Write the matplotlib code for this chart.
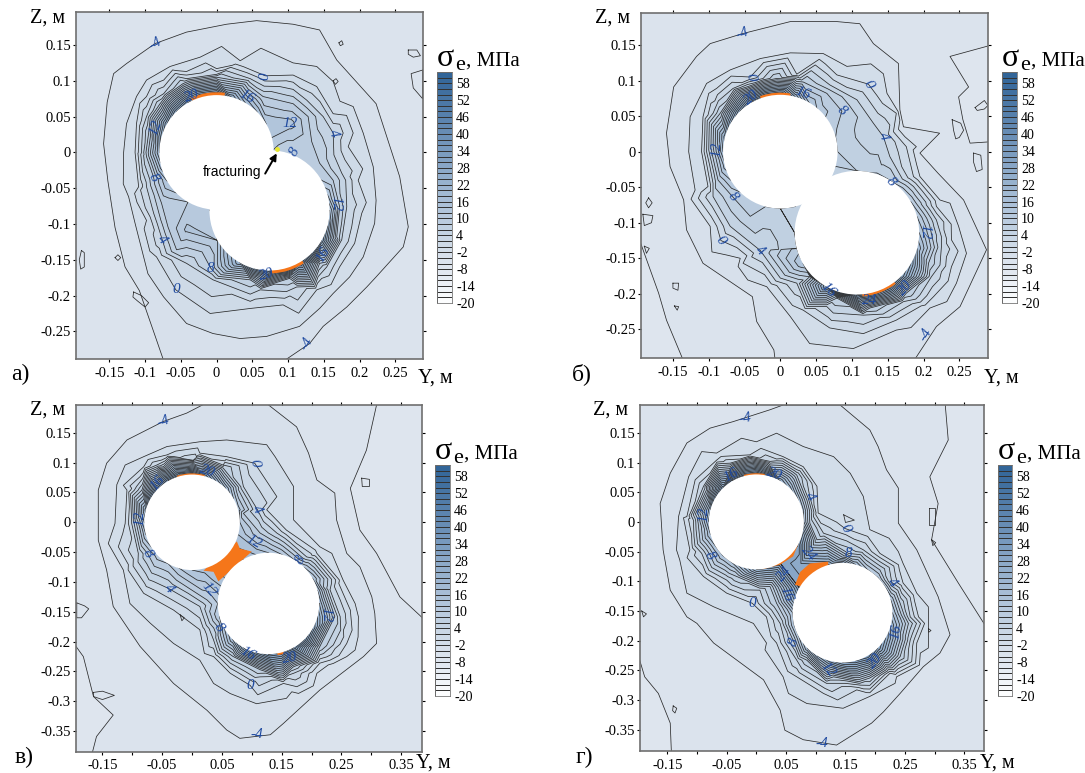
import numpy as np
import matplotlib
matplotlib.use("Agg")
import matplotlib.pyplot as plt
import matplotlib.tri as mtri
from matplotlib.colors import LinearSegmentedColormap, Normalize
from matplotlib.patches import Circle, Wedge, Polygon

plt.rcParams['font.family'] = ['Liberation Serif', 'DejaVu Serif']

W, H = 1085, 773

# =========================
# Data: contour samples (Y, Z)
# =========================
A_M4 = [(-0.074,-0.291),(-0.084,-0.262),(-0.093,-0.22),(-0.108,-0.193),(-0.128,-0.16),(-0.142,-0.105),(-0.152,-0.04),(-0.158,0.012),(-0.153,0.07),(-0.144,0.11),(-0.126,0.124),(-0.098,0.14),(-0.086,0.152),(-0.042,0.168),(0.014,0.179),(0.056,0.184),(0.107,0.179),(0.144,0.171),(0.151,0.152),(0.168,0.129),(0.182,0.089),(0.223,0.068),(0.228,0.031),(0.247,-0.006),(0.256,-0.034),(0.254,-0.085),(0.268,-0.104),(0.261,-0.132),(0.223,-0.174),(0.21,-0.188),(0.182,-0.216),(0.149,-0.243),(0.13,-0.267),(0.102,-0.274),(0.093,-0.292)]
A_M2 = [(-0.023,0.133),(0.033,0.128),(0.107,0.125),(0.14,0.12),(0.163,0.099),(0.191,0.064),(0.205,0.027),(0.219,-0.02),(0.223,-0.067),(0.221,-0.099),(0.205,-0.146),(0.186,-0.174),(0.163,-0.197),(0.116,-0.243),(0.07,-0.257),(0.033,-0.26),(-0.005,-0.253),(-0.042,-0.239),(-0.074,-0.202),(-0.102,-0.146),(-0.114,-0.099),(-0.123,-0.062),(-0.13,0.0),(-0.126,0.04),(-0.112,0.078),(-0.098,0.101),(-0.065,0.12)]
A_0 = [(0.068,0.107),(0.0,0.117),(-0.042,0.113),(-0.074,0.101),(-0.098,0.078),(-0.112,0.04),(-0.114,0.0),(-0.109,-0.048),(-0.098,-0.095),(-0.084,-0.146),(-0.057,-0.192),(-0.009,-0.225),(0.047,-0.218),(0.093,-0.213),(0.14,-0.192),(0.172,-0.16),(0.193,-0.127),(0.203,-0.085),(0.198,-0.039),(0.184,0.008),(0.163,0.054),(0.14,0.092),(0.107,0.108)]
A_4 = [(0.163,0.027),(0.175,-0.029),(0.182,-0.076),(0.175,-0.122),(0.154,-0.16),(0.112,-0.188),(0.061,-0.192),(-0.005,-0.178),(-0.042,-0.155),(-0.076,-0.122),(-0.088,-0.085),(-0.098,-0.048),(-0.105,0.0),(-0.098,0.05),(-0.074,0.082),(-0.042,0.103),(0.0,0.109),(0.047,0.103),(0.088,0.092),(0.126,0.073),(0.149,0.05)]
A_8 = [(0.109,0.0),(0.133,0.015),(0.128,0.05),(0.107,0.068),(0.065,0.078),(0.0,0.105),(-0.047,0.096),(-0.079,0.068),(-0.095,0.027),(-0.098,-0.006),(-0.088,-0.035),(-0.077,-0.071),(-0.068,-0.104),(-0.056,-0.136),(-0.008,-0.162),(0.047,-0.178),(0.102,-0.176),(0.144,-0.155),(0.168,-0.118),(0.172,-0.076),(0.163,-0.039),(0.144,-0.015)]
A_M6 = []
A_EXTRA = [(0.103,0.041,13),(-0.042,-0.108,12.5),(-0.3,0.3,-5),(0.4,0.3,-5),(0.4,-0.4,-5),(-0.3,-0.4,-5)]
A_C1_VAL = [12,12,14,16,18,24,32,32,32,30,26,23,20,17,14,12,10,10,10,10,10,10,10,10]
A_C2_VAL = [18,14,10,9,8,8,8,8,8,9,10,10,10,11,12,18,24,28,32,32,32,30,26,22]
A_LOOPS = [[(-0.189,-0.137),(-0.185,-0.14),(-0.185,-0.16),(-0.19,-0.163),(-0.192,-0.15)],
           [(-0.142,-0.147),(-0.138,-0.143),(-0.134,-0.147),(-0.138,-0.151)],
           [(-0.116,-0.195),(-0.105,-0.2),(-0.095,-0.21),(-0.1,-0.216),(-0.11,-0.208),(-0.117,-0.202)],
           [(0.268,0.143),(0.28,0.143),(0.285,0.135),(0.275,0.133),(0.268,0.137)],
           [(0.288,0.115),(0.272,0.11),(0.275,0.09),(0.288,0.075)],
           [(0.163,0.1),(0.167,0.103),(0.17,0.099),(0.166,0.095)],
           [(0.171,0.153),(0.175,0.156),(0.177,0.151),(0.173,0.149)]]

B_M4 = [(-0.007,-0.295),(-0.009,-0.279),(-0.033,-0.239),(-0.039,-0.204),(-0.066,-0.166),(-0.108,-0.157),(-0.131,-0.11),(-0.135,-0.068),(-0.154,-0.021),(-0.159,0.026),(-0.149,0.091),(-0.117,0.134),(-0.098,0.152),(-0.053,0.166),(0.014,0.183),(0.079,0.183),(0.111,0.18),(0.13,0.152),(0.165,0.124),(0.167,0.059),(0.172,0.035),(0.195,-0.002),(0.22,-0.03),(0.256,-0.068),(0.288,-0.138),(0.251,-0.218),(0.218,-0.246),(0.203,-0.258),(0.186,-0.295)]
B_M2 = [(0.014,0.139),(0.06,0.138),(0.093,0.12),(0.149,0.082),(0.19,0.007),(0.195,-0.035),(0.223,-0.068),(0.249,-0.105),(0.26,-0.143),(0.246,-0.185),(0.209,-0.22),(0.162,-0.251),(0.102,-0.277),(0.041,-0.27),(0.014,-0.232),(-0.019,-0.19),(-0.056,-0.15),(-0.098,-0.105),(-0.119,-0.054),(-0.128,0.0),(-0.126,0.049),(-0.103,0.096),(-0.07,0.115),(-0.028,0.131)]
B_0 = [(-0.042,0.105),(-0.089,0.089),(-0.108,0.049),(-0.11,0.0),(-0.101,-0.049),(-0.083,-0.125),(-0.052,-0.157),(0.032,-0.223),(0.069,-0.248),(0.116,-0.256),(0.162,-0.237),(0.214,-0.204),(0.239,-0.162),(0.239,-0.124),(0.218,-0.077),(0.186,-0.035),(0.176,0.007),(0.162,0.054),(0.123,0.095),(0.079,0.108),(0.023,0.109)]
B_4 = [(0.144,0.021),(0.153,-0.007),(0.186,-0.049),(0.218,-0.096),(0.225,-0.134),(0.211,-0.176),(0.172,-0.211),(0.116,-0.23),(0.065,-0.218),(0.023,-0.185),(-0.028,-0.139),(-0.07,-0.105),(-0.094,-0.063),(-0.103,0.0),(-0.094,0.054),(-0.066,0.089),(-0.024,0.103),(0.023,0.105),(0.069,0.094),(0.107,0.073),(0.13,0.04)]
B_8 = [(0.079,0.033),(0.086,0.057),(0.065,0.082),(0.032,0.098),(-0.005,0.103),(-0.047,0.091),(-0.084,0.054),(-0.096,0.0),(-0.087,-0.04),(-0.067,-0.063),(-0.042,-0.091),(0.023,-0.136),(0.041,-0.176),(0.079,-0.206),(0.125,-0.22),(0.176,-0.199),(0.207,-0.157),(0.211,-0.115),(0.19,-0.073),(0.155,-0.042),(0.135,-0.03)]
B_M6 = [(0.256,0.18),(0.27,0.182),(0.295,0.15),(0.237,0.134),(0.263,0.091),(0.249,0.077),(0.255,0.045),(0.265,0.012),(0.295,0.014),(-0.2,-0.115),(-0.168,-0.148),(-0.17,-0.199),(-0.159,-0.237),(-0.135,-0.295)]
B_EXTRA = [(-0.3,0.3,-5),(0.4,0.3,-5),(0.4,-0.4,-5),(-0.3,-0.4,-7),(0.275,0.12,-7),(0.285,0.05,-7),(-0.195,-0.25,-7)]
B_C1_VAL = [8,8,9,11,14,22,32,32,32,28,24,21,18,15,12,10,8,8,8,8,8,8,8,8]
B_C2_VAL = [14,12,10,9,8,8,8,7,6,6,6,7,8,11,14,20,26,30,32,32,32,28,24,18]
B_LOOPS = [[(0.24,0.045),(0.252,0.04),(0.256,0.03),(0.25,0.02),(0.245,0.018),(0.242,0.03)],
           [(0.272,0.062),(0.285,0.072),(0.29,0.065),(0.285,0.06),(0.275,0.058)],
           [(0.27,-0.002),(0.28,-0.005),(0.282,-0.025),(0.274,-0.028),(0.27,-0.015)],
           [(-0.184,-0.065),(-0.179,-0.072),(-0.184,-0.079),(-0.188,-0.072)],
           [(-0.192,-0.088),(-0.178,-0.09),(-0.18,-0.1),(-0.19,-0.104)],
           [(-0.19,-0.133),(-0.183,-0.136),(-0.187,-0.143)],
           [(-0.15,-0.185),(-0.142,-0.185),(-0.143,-0.195),(-0.15,-0.192)],
           [(-0.148,-0.217),(-0.142,-0.218),(-0.144,-0.223)]]

C_M4 = [(0.022,0.199),(0.019,0.191),(-0.009,0.183),(-0.048,0.169),(-0.087,0.144),(-0.109,0.138),(-0.143,0.099),(-0.157,0.054),(-0.157,-0.03),(-0.143,-0.08),(-0.132,-0.141),(-0.087,-0.208),(-0.054,-0.22),(-0.031,-0.27),(0.008,-0.289),(0.025,-0.315),(0.058,-0.348),(0.08,-0.362),(0.108,-0.356),(0.131,-0.356),(0.153,-0.337),(0.181,-0.298),(0.214,-0.281),(0.242,-0.242),(0.287,-0.225),(0.309,-0.203),(0.292,-0.169),(0.306,-0.153),(0.301,-0.125),(0.259,-0.052),(0.242,0.004),(0.239,0.049),(0.209,0.071),(0.195,0.116),(0.175,0.16),(0.142,0.177),(0.125,0.199)]
C_M2 = [(0.013,0.135),(0.058,0.138),(0.125,0.13),(0.139,0.11),(0.17,0.06),(0.17,0.004),(0.214,-0.041),(0.253,-0.097),(0.273,-0.136),(0.278,-0.192),(0.259,-0.225),(0.209,-0.253),(0.158,-0.295),(0.108,-0.304),(0.064,-0.287),(0.036,-0.27),(0.013,-0.231),(-0.031,-0.203),(-0.07,-0.169),(-0.104,-0.136),(-0.115,-0.08),(-0.129,-0.002),(-0.126,0.063),(-0.081,0.11),(-0.042,0.127)]
C_0 = [(0.105,0.099),(0.142,0.043),(0.125,0.021),(0.158,-0.013),(0.209,-0.052),(0.248,-0.108),(0.265,-0.147),(0.259,-0.203),(0.214,-0.236),(0.153,-0.27),(0.097,-0.273),(0.064,-0.253),(0.036,-0.225),(0.013,-0.18),(-0.031,-0.147),(-0.081,-0.119),(-0.107,-0.08),(-0.112,-0.002),(-0.109,0.054),(-0.081,0.093),(-0.042,0.113),(0.013,0.116),(0.058,0.11)]
C_4 = [(0.109,0.022),(0.086,0.06),(0.052,0.096),(0.002,0.104),(-0.059,0.096),(-0.093,0.06),(-0.101,-0.002),(-0.09,-0.052),(-0.039,-0.111),(0.013,-0.141),(0.036,-0.197),(0.064,-0.236),(0.114,-0.259),(0.17,-0.253),(0.22,-0.22),(0.248,-0.158),(0.231,-0.113),(0.192,-0.058),(0.142,-0.018)]
C_8 = [(0.181,-0.063),(0.22,-0.108),(0.239,-0.158),(0.214,-0.208),(0.17,-0.242),(0.114,-0.247),(0.069,-0.225),(0.044,-0.176),(0.025,-0.13),(-0.026,-0.097),(-0.074,-0.053),(-0.093,-0.002),(-0.084,0.054),(-0.048,0.093),(0.002,0.102),(0.052,0.091),(0.078,0.054),(0.086,0.015),(0.114,-0.018)]
C_M6 = [(0.309,0.197),(0.284,0.172),(0.278,0.146),(0.292,0.121),(0.265,0.057),(0.281,-0.013),(0.309,-0.052),(0.348,-0.125),(0.359,-0.175),(0.39,-0.164),(-0.2,-0.2),(-0.182,-0.225),(-0.165,-0.292),(-0.132,-0.323),(-0.16,-0.359),(-0.143,-0.365),(-0.168,-0.39)]
C_EXTRA = [(0.06,-0.06,30),(-0.3,0.3,-5),(0.5,0.3,-7),(0.5,-0.5,-5),(-0.3,-0.5,-7),(0.37,0.0,-7),(-0.195,-0.33,-7)]
C_C1_VAL = [12,13,14,18,22,28,32,32,32,30,26,21,16,14,12,11,10,12,14,15,16,16,16,14]
C_C2_VAL = [18,16,14,12,10,12,14,16,18,17,16,13,10,12,14,18,24,28,32,32,32,30,26,22]
C_LOOPS = [[(0.284,0.074),(0.297,0.072),(0.297,0.06),(0.285,0.06)],
           [(-0.193,-0.135),(-0.18,-0.14),(-0.173,-0.145),(-0.185,-0.16),(-0.193,-0.16)],
           [(-0.02,-0.155),(-0.013,-0.16),(-0.017,-0.165)],
           [(-0.165,-0.285),(-0.15,-0.283),(-0.13,-0.29),(-0.15,-0.297),(-0.165,-0.292)]]

D_M4 = [(0.045,0.197),(0.023,0.189),(-0.039,0.169),(-0.078,0.158),(-0.117,0.133),(-0.145,0.082),(-0.162,0.031),(-0.157,-0.047),(-0.145,-0.115),(-0.117,-0.16),(-0.1,-0.171),(-0.072,-0.204),(-0.005,-0.227),(0.012,-0.266),(0.04,-0.317),(0.048,-0.351),(0.079,-0.367),(0.135,-0.376),(0.194,-0.339),(0.214,-0.32),(0.242,-0.289),(0.281,-0.244),(0.309,-0.221),(0.326,-0.19),(0.306,-0.126),(0.27,-0.047),(0.239,-0.002),(0.239,0.057),(0.219,0.088),(0.205,0.127),(0.191,0.155),(0.152,0.172),(0.141,0.197)]
D_M2 = [(0.0,0.135),(0.079,0.127),(0.13,0.11),(0.158,0.082),(0.18,0.043),(0.146,0.009),(0.191,-0.013),(0.247,-0.07),(0.27,-0.12),(0.29,-0.171),(0.276,-0.221),(0.236,-0.261),(0.191,-0.294),(0.146,-0.314),(0.085,-0.306),(0.045,-0.261),(0.017,-0.204),(-0.005,-0.171),(-0.072,-0.143),(-0.117,-0.12),(-0.129,-0.064),(-0.131,0.009),(-0.114,0.076),(-0.067,0.116)]
D_0 = [(0.149,-0.011),(0.208,-0.053),(0.247,-0.103),(0.273,-0.16),(0.27,-0.204),(0.225,-0.255),(0.169,-0.283),(0.113,-0.289),(0.068,-0.261),(0.034,-0.204),(0.017,-0.16),(-0.007,-0.137),(-0.05,-0.12),(-0.089,-0.092),(-0.112,-0.047),(-0.117,0.009),(-0.103,0.071),(-0.067,0.104),(-0.011,0.113),(0.045,0.11),(0.079,0.093),(0.102,0.06),(0.104,0.015)]
D_4 = [(0.09,0.042),(0.068,0.088),(0.023,0.102),(-0.044,0.099),(-0.089,0.06),(-0.106,0.003),(-0.092,-0.053),(-0.05,-0.098),(0.006,-0.115),(0.04,-0.171),(0.068,-0.233),(0.118,-0.272),(0.175,-0.275),(0.231,-0.249),(0.259,-0.199),(0.259,-0.16),(0.228,-0.102),(0.18,-0.047),(0.113,-0.019),(0.096,0.009)]
D_8 = [(0.155,-0.053),(0.208,-0.081),(0.242,-0.137),(0.256,-0.171),(0.242,-0.227),(0.191,-0.263),(0.13,-0.261),(0.085,-0.233),(0.063,-0.202),(0.034,-0.137),(0.023,-0.109),(-0.033,-0.092),(-0.078,-0.056),(-0.098,-0.002),(-0.084,0.054),(-0.044,0.093),(0.023,0.096),(0.068,0.079),(0.085,0.037),(0.09,-0.002),(0.102,-0.03)]
D_M6 = [(0.318,0.197),(0.304,0.166),(0.323,0.138),(0.292,0.076),(0.306,0.031),(0.295,-0.03),(0.34,-0.103),(0.354,-0.165),(0.39,-0.182),(-0.2,-0.221),(-0.188,-0.261),(-0.165,-0.289),(-0.145,-0.339),(-0.143,-0.39)]
D_EXTRA = [(0.075,-0.07,26),(-0.3,0.3,-5),(0.5,0.3,-7),(0.5,-0.5,-5),(-0.3,-0.5,-7),(0.37,0.0,-7),(-0.195,-0.33,-7)]
D_C1_VAL = [14,15,16,19,22,28,32,32,32,30,26,22,18,16,14,14,14,18,24,27,30,30,30,22]
D_C2_VAL = [16,14,12,12,12,16,22,26,30,30,30,22,14,14,14,18,22,25,28,30,32,28,24,20]
D_LOOPS = [[(0.291,0.024),(0.3,0.024),(0.3,-0.005),(0.291,-0.005)],
           [(0.295,-0.03),(0.302,-0.035),(0.297,-0.04)],
           [(-0.14,-0.31),(-0.134,-0.314),(-0.137,-0.322),(-0.141,-0.318)],
           [(-0.193,-0.15),(-0.185,-0.155),(-0.19,-0.16)],
           [(0.147,0.012),(0.165,0.003),(0.15,-0.001)],
           [(0.29,-0.18),(0.294,-0.183),(0.29,-0.186)]]

C_ANGLES = list(range(0, 360, 15))

# contour labels: text, Y, Z, rotation
A_LABELS = [("-4",-0.086,0.152,30),("0",0.068,0.107,90),("-4",0.126,-0.267,60),("4",0.163,0.027,-70),("12",0.103,0.041,0),("8",0.109,0.0,60),("12",0.167,-0.072,-90),("16",0.149,-0.143,60),("20",0.07,-0.171,15),("8",-0.008,-0.162,0),("0",-0.057,-0.192,0),("4",-0.076,-0.122,-50),("8",-0.088,-0.035,-60),("12",-0.085,0.034,70),("20",-0.035,0.079,20),("16",0.042,0.077,-30)]
B_LABELS = [("-4",-0.053,0.166,20),("0",-0.042,0.105,-80),("20",-0.04,0.076,40),("16",0.031,0.082,-20),("0",0.123,0.095,-60),("8",0.086,0.057,-40),("4",0.144,0.021,-70),("12",-0.089,0.003,90),("8",-0.067,-0.063,-50),("0",-0.083,-0.125,-50),("4",-0.028,-0.139,-40),("8",0.155,-0.042,-50),("12",0.202,-0.113,-90),("16",0.067,-0.195,-45),("24",0.125,-0.209,0),("20",0.174,-0.191,50),("-4",0.203,-0.258,60)]
C_LABELS = [("-4",-0.048,0.169,20),("0",0.105,0.099,-80),("20",0.025,0.085,-20),("16",-0.058,0.066,50),("12",-0.088,0.007,90),("4",0.109,0.022,-60),("12",0.104,-0.032,-30),("8",0.181,-0.063,60),("8",-0.074,-0.053,-60),("4",-0.039,-0.111,-50),("12",0.029,-0.113,-50),("8",0.044,-0.176,-50),("12",0.224,-0.154,-90),("16",0.094,-0.221,-30),("20",0.163,-0.227,10),("0",0.097,-0.273,0),("-4",0.108,-0.356,0)]
D_LABELS = [("-4",-0.019,0.175,10),("16",-0.043,0.078,30),("20",0.03,0.081,-20),("12",-0.088,0.013,90),("4",0.09,0.042,-60),("0",0.149,-0.011,-60),("24",0.088,-0.053,-50),("8",0.155,-0.053,0),("24",0.047,-0.087,50),("4",0.228,-0.102,-50),("16",0.051,-0.121,-70),("8",-0.078,-0.056,-60),("0",-0.007,-0.137,0),("8",0.063,-0.202,70),("16",0.235,-0.185,80),("20",0.2,-0.235,50),("12",0.12,-0.248,-50),("-4",0.11,-0.373,0)]

TICKS_SHORT = ["-0.15","-0.1","-0.05","0","0.05","0.1","0.15","0.2","0.25"]
TICKS_LONG = ["-0.15","","-0.05","","0.05","","0.15","","0.25","","0.35"]
ZTICKS_SHORT = ["0.15","0.1","0.05","0","-0.05","-0.1","-0.15","-0.2","-0.25"]
ZTICKS_LONG = ["0.15","0.1","0.05","0","-0.05","-0.1","-0.15","-0.2","-0.25","-0.3","-0.35"]

BAR_LEVELS = list(range(-20, 64, 2))
BAR_LABELS = [-20,-14,-8,-2,4,10,16,22,28,34,40,46,52,58]

PANELS = [
    dict(rect=(75.7,11.7,423,359.3), ylim=(-0.197,0.2886), zlim=(-0.289,0.1965),
         c1=(0,0,0.08), c2=(0.074,-0.081,0.084),
         rings={-6:A_M6,-4:A_M4,-2:A_M2,0:A_0,4:A_4,8:A_8}, extra=A_EXTRA,
         v1=A_C1_VAL, v2=A_C2_VAL, labels=A_LABELS, loops=A_LOOPS,
         arcs=[(1,82,115,0.004),(2,272,303,0.004)], polys=[],
         xt=TICKS_SHORT, zt=ZTICKS_SHORT,
         bar=(437,72,452,303), zpos=(30,23), ypos=(418,383), tag=("а)",11,380)),
    dict(rect=(641,12.7,988.3,358.3), ylim=(-0.1946,0.2905), zlim=(-0.2907,0.1955),
         c1=(0,0,0.08), c2=(0.107,-0.114,0.087),
         rings={-6:B_M6,-4:B_M4,-2:B_M2,0:B_0,4:B_4,8:B_8}, extra=B_EXTRA,
         v1=B_C1_VAL, v2=B_C2_VAL, labels=B_LABELS, loops=B_LOOPS,
         arcs=[(1,80,110,0.003),(2,275,307,0.003)], polys=[],
         xt=TICKS_SHORT, zt=ZTICKS_SHORT,
         bar=(1002,72,1017,303), zpos=(595,23), ypos=(984,383), tag=("б)",572,380)),
    dict(rect=(75.7,405,421.7,751.7), ylim=(-0.1948,0.3845), zlim=(-0.3844,0.1966),
         c1=(0,0,0.08), c2=(0.128,-0.136,0.085),
         rings={-6:C_M6,-4:C_M4,-2:C_M2,0:C_0,4:C_4,8:C_8}, extra=C_EXTRA,
         v1=C_C1_VAL, v2=C_C2_VAL, labels=C_LABELS, loops=C_LOOPS,
         arcs=[(1,75,108,0.002),(2,280,287,0.003)],
         polys=[[(0.019,-0.081),(0.075,-0.032),(0.08,-0.044),(0.1,-0.049),(0.044,-0.099),(0.036,-0.083)]],
         xt=TICKS_LONG, zt=ZTICKS_LONG,
         bar=(435,465,450,696), zpos=(30,415), ypos=(416,768), tag=("в)",15,763)),
    dict(rect=(639.7,405,983.7,751.3), ylim=(-0.1964,0.3827), zlim=(-0.3865,0.197),
         c1=(0,0,0.08), c2=(0.145,-0.153,0.084),
         rings={-6:D_M6,-4:D_M4,-2:D_M2,0:D_0,4:D_4,8:D_8}, extra=D_EXTRA,
         v1=D_C1_VAL, v2=D_C2_VAL, labels=D_LABELS, loops=D_LOOPS,
         arcs=[(1,80,105,0.002)],
         polys=[[(0.009,-0.08),(0.04,-0.072),(0.062,-0.058),(0.071,-0.036),(0.04,-0.04)],
                [(0.065,-0.106),(0.074,-0.084),(0.09,-0.07),(0.121,-0.067),(0.12,-0.12)]],
         xt=TICKS_LONG, zt=ZTICKS_LONG,
         bar=(998,465,1012,696), zpos=(593,415), ypos=(980,768), tag=("г)",576,763)),
]

CMAP = LinearSegmentedColormap.from_list("sigma", [
    (0.0, "#ffffff"), (6/82, "#eef2f7"), (12/82, "#dfe6ef"), (16/82, "#d9e2ec"),
    (24/82, "#c7d5e4"), (32/82, "#b4c7dc"), (48/82, "#8aa8c8"), (64/82, "#5f86b0"), (1.0, "#2f6397")])
NORM = Normalize(-20, 62)
LINE_LEVELS = list(range(-6, 60, 2))
FILL_LEVELS = list(range(-20, 64, 2))
LINE_COLOR = "#2a2a2a"


def px_axes(fig, x0, y0, x1, y1):
    return fig.add_axes([x0 / W, 1 - y1 / H, (x1 - x0) / W, (y1 - y0) / H])


def build_samples(p):
    ys, zs, vs = [], [], []
    for level, ring in p["rings"].items():
        for y, z in ring:
            ys.append(y); zs.append(z); vs.append(level)
    for y, z, v in p["extra"]:
        ys.append(y); zs.append(z); vs.append(v)

    # values along the hole edges, dropped where the other hole covers them
    for (cy, cz, r), vals, other in ((p["c1"], p["v1"], p["c2"]), (p["c2"], p["v2"], p["c1"])):
        for ang, v in zip(C_ANGLES, vals):
            y = cy + r * np.cos(np.radians(ang))
            z = cz + r * np.sin(np.radians(ang))
            if np.hypot(y - other[0], z - other[1]) > other[2]:
                ys.append(y); zs.append(z); vs.append(v)
    return np.array(ys), np.array(zs), np.array(vs, dtype=float)


def draw_panel(fig, p):
    ax = px_axes(fig, *p["rect"])
    y, z, v = build_samples(p)
    tri = mtri.Triangulation(y, z)

    ax.tricontourf(tri, v, levels=FILL_LEVELS, cmap=CMAP, norm=NORM, zorder=1)
    ax.tricontour(tri, v, levels=LINE_LEVELS, colors=LINE_COLOR, linewidths=0.55,
                  linestyles="solid", zorder=2)

    # small closed contours off the main field
    for loop in p["loops"]:
        ly = [pt[0] for pt in loop] + [loop[0][0]]
        lz = [pt[1] for pt in loop] + [loop[0][1]]
        ax.plot(ly, lz, color=LINE_COLOR, lw=0.55, zorder=2)

    for verts in p["polys"]:
        ax.add_patch(Polygon(verts, closed=True, fc="#f5761a", ec="none", zorder=3))
    for which, t1, t2, width in p["arcs"]:
        cy, cz, r = p["c1"] if which == 1 else p["c2"]
        ax.add_patch(Wedge((cy, cz), r + width, t1, t2, width=width + 0.002,
                           fc="#f5761a", ec="none", zorder=3))
    for cy, cz, r in (p["c1"], p["c2"]):
        ax.add_patch(Circle((cy, cz), r, fc="white", ec="none", zorder=4))

    for text, ly, lz, rot in p["labels"]:
        ax.text(ly, lz, text, color="#1f4aa0", fontsize=11, style="italic",
                rotation=rot, ha="center", va="center", zorder=6)

    ax.set_xlim(*p["ylim"])
    ax.set_ylim(*p["zlim"])
    xpos = [-0.15 + 0.05 * i for i in range(len(p["xt"]))]
    zpos = [0.15 - 0.05 * i for i in range(len(p["zt"]))]
    ax.set_xticks(xpos, p["xt"])
    ax.set_yticks(zpos, p["zt"])
    ax.tick_params(top=True, right=True, direction="out", length=2.5, width=0.8, labelsize=10.5)
    ax.tick_params(axis="x", pad=3)
    ax.tick_params(axis="y", pad=1)
    for s in ax.spines.values():
        s.set_color("#6f6f6f")
        s.set_linewidth(1.2)
    return ax


def draw_bar(fig, p):
    x0, y0, x1, y1 = p["bar"]
    cax = px_axes(fig, x0, y0, x1, y1)
    edges = np.array(BAR_LEVELS, dtype=float)
    vals = (edges[:-1] + edges[1:]) / 2
    cax.pcolormesh([0, 1], edges, vals.reshape(-1, 1), cmap=CMAP, norm=NORM,
                   edgecolors="#333333", linewidth=0.5)
    cax.set_xticks([])
    cax.yaxis.tick_right()
    cax.set_yticks(BAR_LABELS, [str(b) for b in BAR_LABELS])
    cax.tick_params(length=0, labelsize=10, pad=3)
    for s in cax.spines.values():
        s.set_color("#777777")
        s.set_linewidth(0.6)

    base = y0 - 6
    fig.text(x0 / W, 1 - base / H, "σ", fontsize=23, va="baseline")
    fig.text((x0 + 18) / W, 1 - (base + 4) / H, "e", fontsize=16, va="baseline")
    fig.text((x0 + 29) / W, 1 - base / H, ", МПа", fontsize=15, va="baseline")


def main():
    fig = plt.figure(figsize=(W / 100, H / 100), dpi=100)

    for p in PANELS:
        ax = draw_panel(fig, p)
        draw_bar(fig, p)
        fig.text(p["zpos"][0] / W, 1 - p["zpos"][1] / H, "Z, м", fontsize=14.5, va="baseline")
        fig.text(p["ypos"][0] / W, 1 - p["ypos"][1] / H, "Y, м", fontsize=14.5, va="baseline")
        fig.text(p["tag"][1] / W, 1 - p["tag"][2] / H, p["tag"][0], fontsize=17, va="baseline")

        if p is PANELS[0]:
            ax.plot([0.085], [0.005], "o", ms=2.5, color="#e8e830", zorder=5)
            ax.text(0.0625, -0.027, "fracturing", family="Liberation Sans", fontsize=10,
                    ha="right", va="center", zorder=6)
            ax.annotate("", xy=(0.086, 0.002), xytext=(0.066, -0.033),
                        arrowprops=dict(arrowstyle="-|>", color="black", lw=1.4), zorder=6)

    fig.savefig("out.png", dpi=100)
    plt.close(fig)


if __name__ == "__main__":
    main()
